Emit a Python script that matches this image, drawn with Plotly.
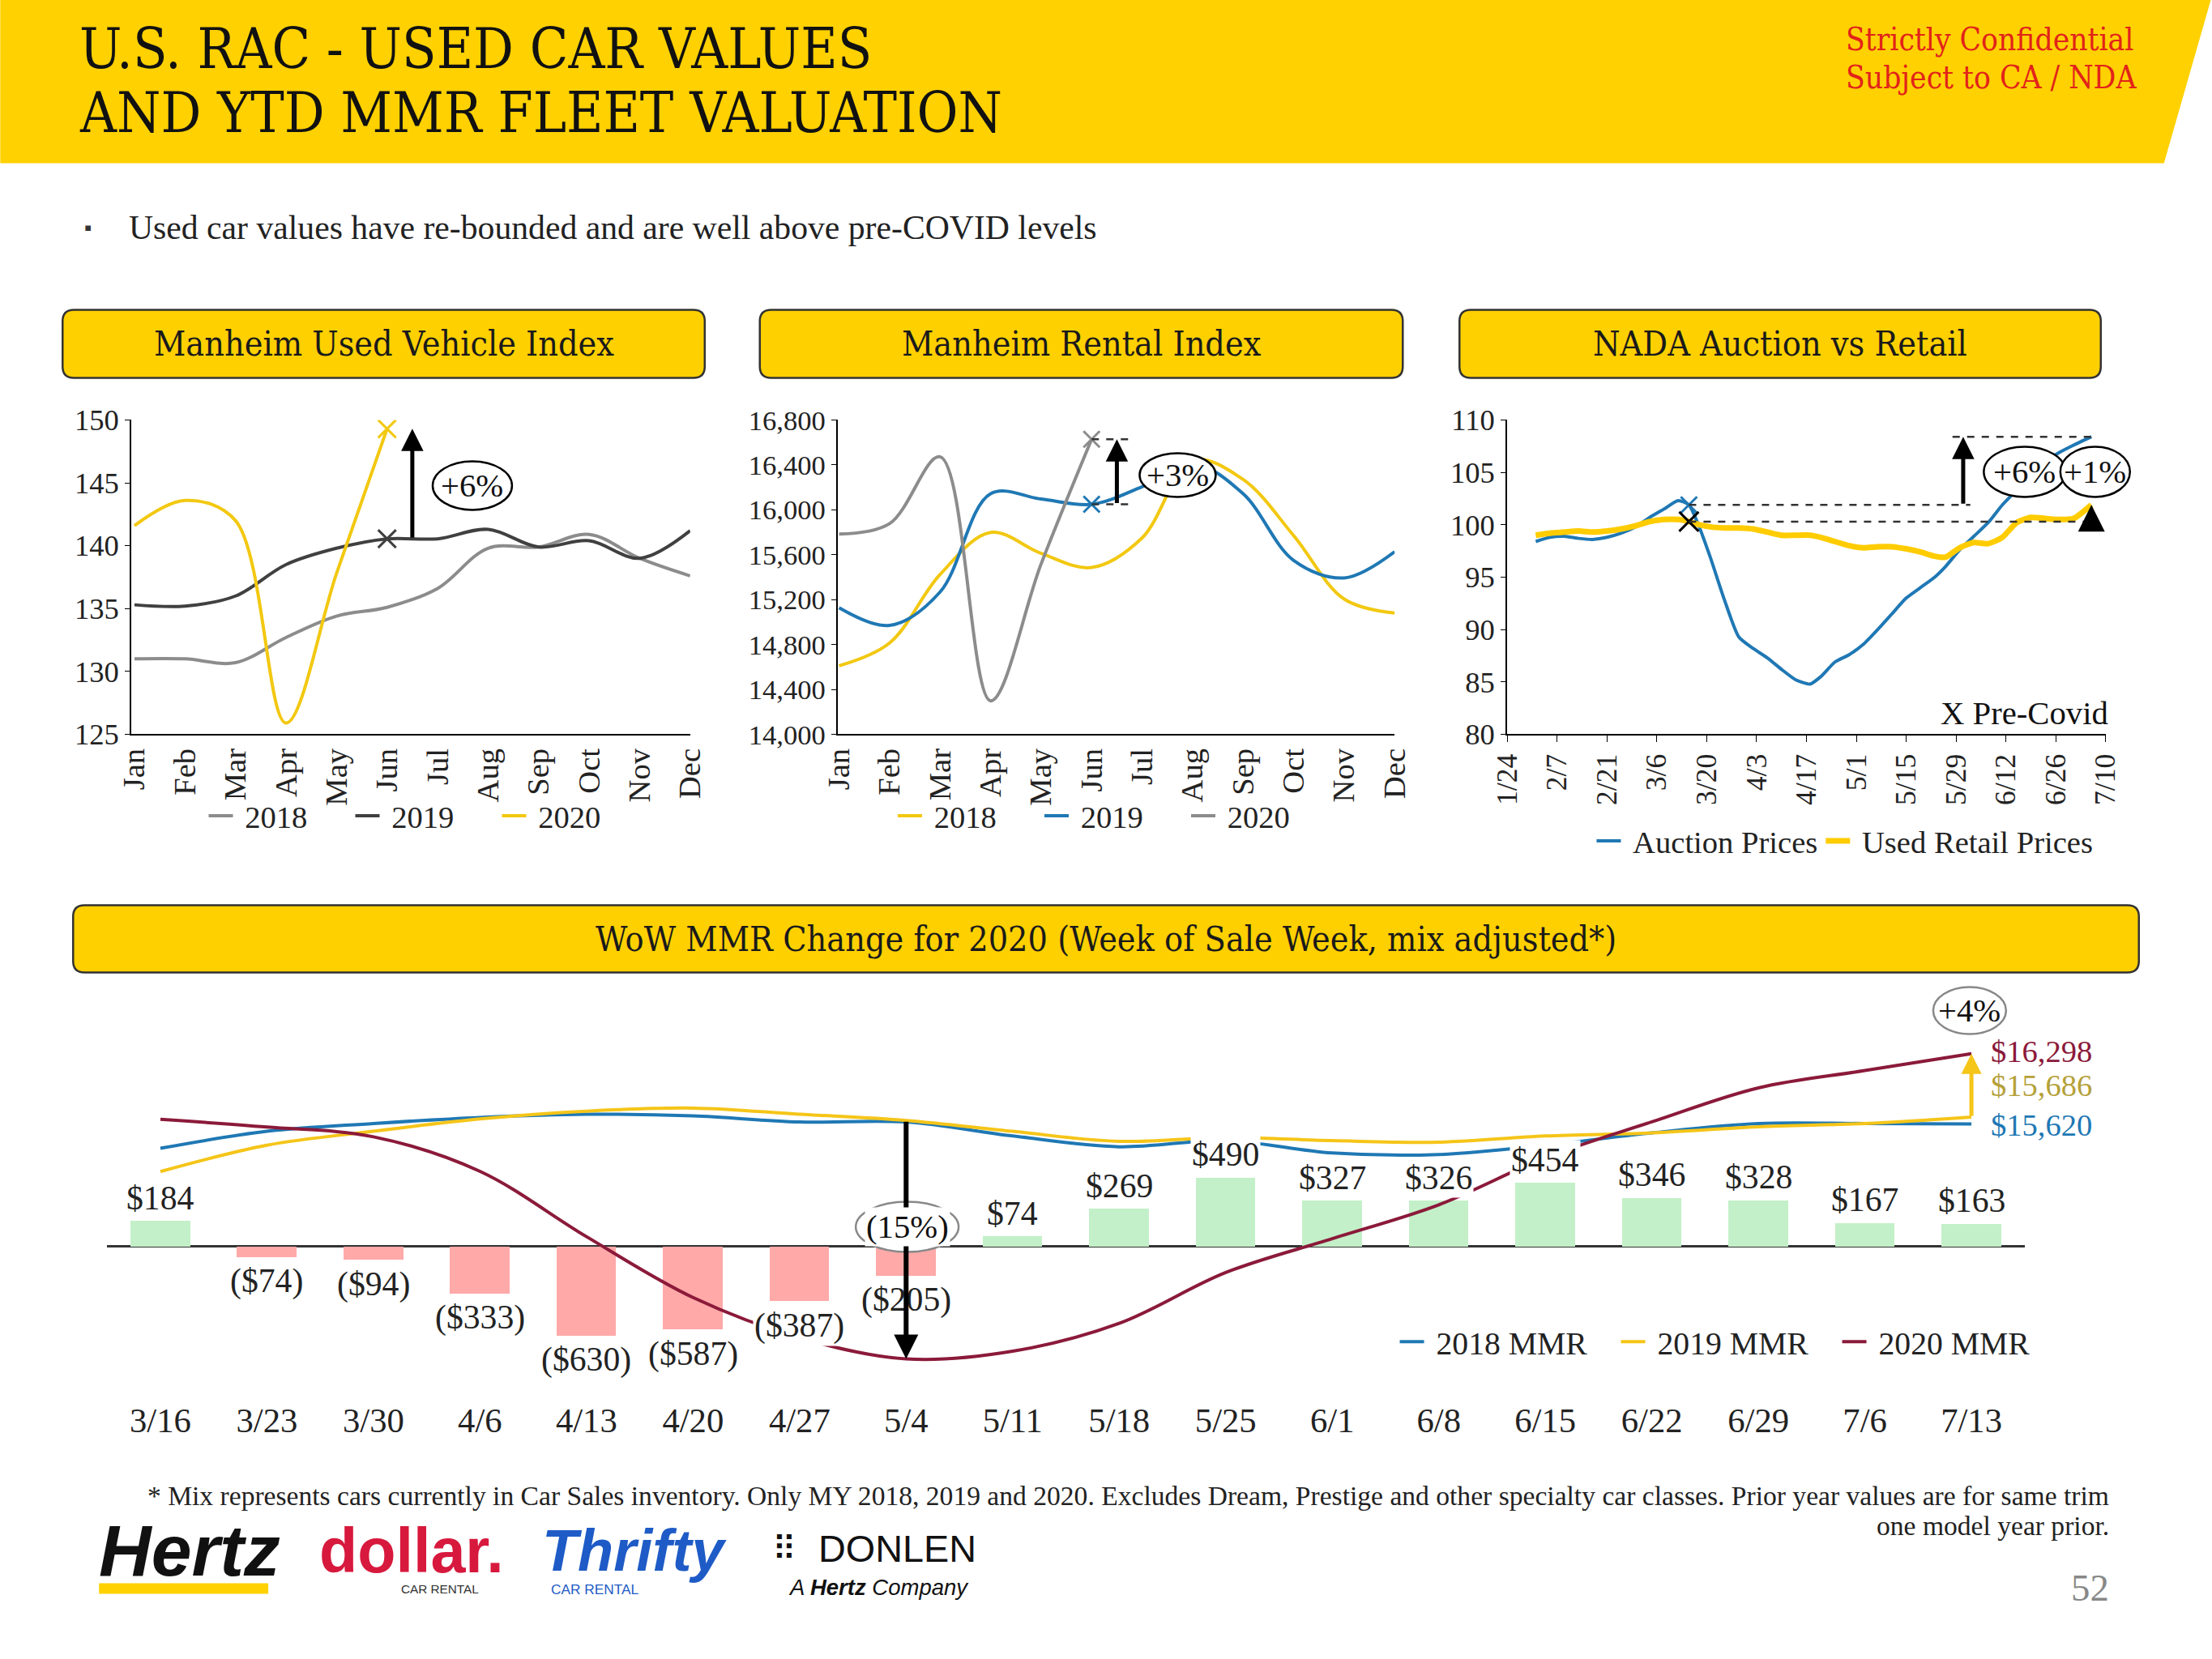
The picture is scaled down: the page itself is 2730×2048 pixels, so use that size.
import plotly.graph_objects as go

W, H = 2730, 2048
SERIF = "Liberation Serif, Times New Roman, serif"
SLAB = "DejaVu Serif Condensed, DejaVu Serif, serif"
SANS = "Liberation Sans, Arial, sans-serif"

# layout positions below are given in slide pixels (2730 x 2048);
# small correction so the photographed page lines up with the slide frame
SX, SY, PADX, PADY = 2770 / 2730, 2090 / 2048, 20, 21
FS = 1.017


def px(x):
    return (x * SX - PADX) / W


def py(y):
    return 1 - (y * SY - PADY) / H


def F(s):
    return round(s * FS, 1)


# ---------------- DATA ----------------
months = ['Jan', 'Feb', 'Mar', 'Apr', 'May', 'Jun', 'Jul', 'Aug', 'Sep', 'Oct', 'Nov', 'Dec']

# Manheim Used Vehicle Index
uvi_2018 = [131.0, 131.0, 130.7, 132.7, 134.4, 135.1, 136.6, 139.8, 139.9, 140.9, 139.0, 137.6]
uvi_2019 = [135.3, 135.2, 136.0, 138.5, 139.8, 140.55, 140.55, 141.3, 139.9, 140.4, 139.0, 141.2]
uvi_2020 = [141.6, 143.6, 142.0, 125.9, 137.8, 149.3]

# Manheim Rental Index
rental_2018 = [14611, 14814, 15424, 15799, 15612, 15486, 15750, 16440, 16270, 15770, 15205, 15080]
rental_2019 = [15127, 14970, 15268, 16143, 16096, 16049, 16206, 16410, 16143, 15549, 15393, 15627]
rental_2020 = [15784, 15877, 16472, 14298, 15518, 16628]

# NADA Auction vs Retail
nada_dates = ['2020-02-01', '2020-02-05', '2020-02-09', '2020-02-13', '2020-02-17', '2020-02-21',
              '2020-02-25', '2020-02-29', '2020-03-04', '2020-03-08', '2020-03-12', '2020-03-15',
              '2020-03-18', '2020-03-21', '2020-03-25', '2020-03-29', '2020-04-02', '2020-04-06',
              '2020-04-10', '2020-04-14', '2020-04-18', '2020-04-21', '2020-04-25', '2020-04-29',
              '2020-05-03', '2020-05-07', '2020-05-11', '2020-05-15', '2020-05-19', '2020-05-23',
              '2020-05-26', '2020-05-30', '2020-06-03', '2020-06-07', '2020-06-11', '2020-06-15',
              '2020-06-19', '2020-06-23', '2020-06-27', '2020-07-01', '2020-07-06']
auction_prices = [98.4, 98.8, 98.9, 98.7, 98.6, 98.8, 99.2, 99.8, 100.7, 101.5,
                  102.3, 101.9, 99.7, 96.9, 92.8, 89.3, 88.2, 87.3, 86.2, 85.2,
                  84.8, 85.5, 86.9, 87.6, 88.6, 90.0, 91.5, 93.0, 94.0, 95.0,
                  96.0, 97.6, 98.9, 100.2, 101.9, 103.3, 104.8, 106.0, 106.9, 107.6,
                  108.4]
retail_prices = [99.0, 99.2, 99.3, 99.4, 99.3, 99.4, 99.6, 99.9, 100.3, 100.5,
                 100.5, 100.3, 100.0, 99.8, 99.7, 99.7, 99.6, 99.3, 99.0, 99.0,
                 99.0, 98.8, 98.4, 98.0, 97.8, 97.9, 97.9, 97.7, 97.4, 97.0,
                 96.9, 97.8, 98.3, 98.2, 98.8, 100.2, 100.7, 100.6, 100.5, 100.6,
                 101.9]
pre_covid_idx = 11
nada_ticks_start = '2020-01-24'
nada_ticks_end = '2020-07-10'

# WoW MMR change
weeks = ['3/16', '3/23', '3/30', '4/6', '4/13', '4/20', '4/27', '5/4', '5/11', '5/18',
         '5/25', '6/1', '6/8', '6/15', '6/22', '6/29', '7/6', '7/13']
wow_change = [184, -74, -94, -333, -630, -587, -387, -205, 74, 269,
              490, 327, 326, 454, 346, 328, 167, 163]
mmr_2018 = [15385, 15549, 15624, 15683, 15714, 15698, 15639, 15639, 15504, 15400,
            15459, 15340, 15325, 15415, 15534, 15624, 15624, 15620]
mmr_2019 = [15161, 15415, 15549, 15668, 15743, 15773, 15714, 15654, 15549, 15452,
            15490, 15459, 15444, 15504, 15534, 15593, 15624, 15686]
mmr_2020 = [15664, 15590, 15496, 15163, 14533, 13946, 13559, 13354, 13428, 13697,
            14187, 14514, 14840, 15294, 15640, 15968, 16135, 16298]

# ---------------- STYLE ----------------
GRAY = '#8C8C8C'
DARK = '#404040'
YEL = '#F2C811'
BLUE = '#1F78B4'
MAROON = '#8B1A3A'
GREEN_BAR = '#C3F0C8'
RED_BAR = '#FFA9A9'
BAND = '#FFD100'
NB = '\u00a0'

fig = go.Figure()

# Chart 1
for name, vals, col in [('2018', uvi_2018, GRAY), ('2019', uvi_2019, DARK), ('2020', uvi_2020, YEL)]:
    fig.add_trace(go.Scatter(x=list(range(len(vals))), y=vals, name=NB + name, mode='lines',
                             line=dict(color=col, width=4, shape='spline'),
                             xaxis='x', yaxis='y', legend='legend'))
fig.add_trace(go.Scatter(x=[5], y=[uvi_2020[5]], mode='markers', showlegend=False,
                         marker=dict(symbol='x-thin', size=22, line=dict(width=3, color=YEL)),
                         xaxis='x', yaxis='y'))
fig.add_trace(go.Scatter(x=[5], y=[uvi_2019[5]], mode='markers', showlegend=False,
                         marker=dict(symbol='x-thin', size=22, line=dict(width=3, color=DARK)),
                         xaxis='x', yaxis='y'))

# Chart 2
for name, vals, col in [('2018', rental_2018, YEL), ('2019', rental_2019, BLUE), ('2020', rental_2020, GRAY)]:
    fig.add_trace(go.Scatter(x=list(range(len(vals))), y=vals, name=NB + name, mode='lines',
                             line=dict(color=col, width=4, shape='spline'),
                             xaxis='x2', yaxis='y2', legend='legend2'))
fig.add_trace(go.Scatter(x=[5], y=[rental_2020[5]], mode='markers', showlegend=False,
                         marker=dict(symbol='x-thin', size=20, line=dict(width=3, color=GRAY)),
                         xaxis='x2', yaxis='y2'))
fig.add_trace(go.Scatter(x=[5], y=[rental_2019[5]], mode='markers', showlegend=False,
                         marker=dict(symbol='x-thin', size=20, line=dict(width=3, color=BLUE)),
                         xaxis='x2', yaxis='y2'))

# Chart 3
fig.add_trace(go.Scatter(x=nada_dates, y=auction_prices, name=NB + 'Auction Prices', mode='lines',
                         line=dict(color=BLUE, width=4, shape='spline', smoothing=0.6),
                         xaxis='x3', yaxis='y3', legend='legend3'))
fig.add_trace(go.Scatter(x=nada_dates, y=retail_prices, name=NB + 'Used Retail Prices', mode='lines',
                         line=dict(color='#FFCC00', width=7, shape='spline', smoothing=0.6),
                         xaxis='x3', yaxis='y3', legend='legend3'))
fig.add_trace(go.Scatter(x=[nada_dates[pre_covid_idx]], y=[auction_prices[pre_covid_idx]], mode='markers',
                         showlegend=False,
                         marker=dict(symbol='x-thin', size=20, line=dict(width=3, color=BLUE)),
                         xaxis='x3', yaxis='y3'))
fig.add_trace(go.Scatter(x=[nada_dates[pre_covid_idx]], y=[retail_prices[pre_covid_idx]], mode='markers',
                         showlegend=False,
                         marker=dict(symbol='x-thin', size=24, line=dict(width=3, color='black')),
                         xaxis='x3', yaxis='y3'))

# Bottom chart
idx = list(range(len(weeks)))
fig.add_trace(go.Bar(x=idx, y=wow_change, width=0.56, showlegend=False,
                     marker=dict(color=[GREEN_BAR if v >= 0 else RED_BAR for v in wow_change], line=dict(width=0)),
                     xaxis='x4', yaxis='y4'))
for name, vals, col in [('2018 MMR', mmr_2018, BLUE), ('2019 MMR', mmr_2019, '#F5C518'), ('2020 MMR', mmr_2020, MAROON)]:
    fig.add_trace(go.Scatter(x=idx, y=vals, name=NB + name, mode='lines',
                             line=dict(color=col, width=4, shape='spline'),
                             xaxis='x4', yaxis='y5', legend='legend4'))

# ---------------- SHAPES ----------------
shapes = []
# header band
shapes.append(dict(type='path', xref='paper', yref='paper',
                   path=(f"M {px(0)},{py(0)} L {px(2730)},{py(0)} L {px(2672)},{py(202)} "
                         f"L {px(0)},{py(202)} Z"),
                   fillcolor=BAND, line=dict(width=0), layer='below'))


def rounded_box(x0, y0, x1, y1, r=14):
    X = px
    Y = py
    p = (f"M {X(x0 + r)},{Y(y0)} L {X(x1 - r)},{Y(y0)} Q {X(x1)},{Y(y0)} {X(x1)},{Y(y0 + r)} "
         f"L {X(x1)},{Y(y1 - r)} Q {X(x1)},{Y(y1)} {X(x1 - r)},{Y(y1)} "
         f"L {X(x0 + r)},{Y(y1)} Q {X(x0)},{Y(y1)} {X(x0)},{Y(y1 - r)} "
         f"L {X(x0)},{Y(y0 + r)} Q {X(x0)},{Y(y0)} {X(x0 + r)},{Y(y0)} Z")
    return dict(type='path', xref='paper', yref='paper', path=p, fillcolor='#FFD000',
                line=dict(color='#333333', width=2.5), layer='below')


boxes = [(77, 383, 870, 467, 'Manheim Used Vehicle Index'),
         (938, 383, 1732, 467, 'Manheim Rental Index'),
         (1802, 383, 2594, 467, 'NADA Auction vs Retail'),
         (90, 1118, 2641, 1201, 'WoW MMR Change for 2020 (Week of Sale Week, mix adjusted*)')]
for b in boxes:
    shapes.append(rounded_box(*b[:4]))

# dashed helper lines chart 2
for v in [rental_2020[5], rental_2019[5]]:
    shapes.append(dict(type='line', xref='x2', yref='y2', x0=5, x1=5.75, y0=v, y1=v,
                       line=dict(color='#333', width=2.5, dash='dash'), layer='above'))
# dashed helper lines chart 3
shapes.append(dict(type='line', xref='x3', yref='y3', x0=nada_dates[pre_covid_idx], x1='2020-06-02',
                   y0=auction_prices[pre_covid_idx], y1=auction_prices[pre_covid_idx],
                   line=dict(color='#333', width=2.5, dash='dash'), layer='above'))
shapes.append(dict(type='line', xref='x3', yref='y3', x0=nada_dates[pre_covid_idx], x1='2020-07-08',
                   y0=retail_prices[pre_covid_idx], y1=retail_prices[pre_covid_idx],
                   line=dict(color='#333', width=2.5, dash='dash'), layer='above'))
shapes.append(dict(type='line', xref='x3', yref='y3', x0='2020-05-28', x1=nada_dates[-1],
                   y0=auction_prices[-1], y1=auction_prices[-1],
                   line=dict(color='#333', width=2.5, dash='dash'), layer='above'))


def ellipse(cx, cy, w, h, col='black'):
    return dict(type='circle', xref='paper', yref='paper', x0=px(cx - w / 2), x1=px(cx + w / 2),
                y0=py(cy + h / 2), y1=py(cy - h / 2), fillcolor='white',
                line=dict(color=col, width=2.5), layer='above')


ellipses = [(583, 600, 98, 60, 'black', '+6%'),
            (1454, 587, 94, 54, 'black', '+3%'),
            (2500, 583, 101, 62, 'black', '+6%'),
            (2587, 583, 86, 62, 'black', '+1%'),
            (2432, 1248, 90, 58, '#888888', '+4%'),
            (1120, 1515, 127, 62, '#888888', '(15%)')]
for e in ellipses:
    shapes.append(ellipse(*e[:5]))

# Hertz yellow bar
shapes.append(dict(type='rect', xref='paper', yref='paper', x0=px(122), x1=px(331), y0=py(1968), y1=py(1955),
                   fillcolor=BAND, line=dict(width=0)))

# ---------------- ANNOTATIONS ----------------
ann = []


def txt(x, y, s, size, color='#222', family=SERIF, xanchor='center', yanchor='middle', **kw):
    d = dict(x=px(x), y=py(y), xref='paper', yref='paper', text=s, showarrow=False,
             font=dict(size=F(size), color=color, family=family), xanchor=xanchor, yanchor=yanchor)
    d.update(kw)
    return d


ann.append(txt(96, 61, 'U.S. RAC - USED CAR VALUES', 68, '#111', SLAB, 'left'))
ann.append(txt(96, 140, 'AND YTD MMR FLEET VALUATION', 68, '#111', SLAB, 'left'))
ann.append(txt(2277, 49, 'Strictly Confidential', 38, '#E2231A', SLAB, 'left'))
ann.append(txt(2277, 96, 'Subject to CA / NDA', 38, '#E2231A', SLAB, 'left'))
ann.append(txt(108, 282, '▪', 26, '#333', SANS))
ann.append(txt(157, 282, 'Used car values have re-bounded and are well above pre-COVID levels', 41, '#222', SERIF, 'left'))

for b in boxes:
    ann.append(txt((b[0] + b[2]) / 2, (b[1] + b[3]) / 2, b[4], 42, '#1a1a1a', SLAB))

# bar labels
for i, v in enumerate(wow_change):
    label = f"${v:,}" if v >= 0 else f"(${-v:,})"
    ann.append(dict(x=i, y=v, xref='x4', yref='y4', text=label, showarrow=False,
                    yanchor='bottom' if v >= 0 else 'top', yshift=3 if v >= 0 else -5,
                    bgcolor='white', borderpad=1,
                    font=dict(size=F(41), color='#222', family=SERIF)))

# end-value labels
ann.append(dict(x=17, y=mmr_2020[-1], xref='x4', yref='y5', text=f"${mmr_2020[-1]:,}", showarrow=False,
                xanchor='left', xshift=22, yshift=3, font=dict(size=F(38), color=MAROON, family=SERIF)))
ann.append(dict(x=17, y=mmr_2019[-1], xref='x4', yref='y5', text=f"${mmr_2019[-1]:,}", showarrow=False,
                xanchor='left', xshift=22, yshift=39, font=dict(size=F(38), color='#B5A13A', family=SERIF)))
ann.append(dict(x=17, y=mmr_2018[-1], xref='x4', yref='y5', text=f"${mmr_2018[-1]:,}", showarrow=False,
                xanchor='left', xshift=22, yshift=-2, font=dict(size=F(38), color=BLUE, family=SERIF)))


def arrow(x, y_from, y_to, xr, yr, color='black', width=5, size=1.1):
    return dict(x=x, y=y_to, ax=x, ay=y_from, xref=xr, yref=yr, axref=xr, ayref=yr, text='',
                showarrow=True, arrowhead=2, arrowsize=size, arrowwidth=width, arrowcolor=color,
                standoff=0, startstandoff=0)


ann.append(arrow(5.5, uvi_2019[5], uvi_2020[5], 'x', 'y'))
ann.append(arrow(5.5, rental_2019[5], rental_2020[5], 'x2', 'y2'))
ann.append(arrow('2020-05-31', auction_prices[pre_covid_idx], auction_prices[-1], 'x3', 'y3'))
ann.append(arrow(nada_dates[-1], retail_prices[pre_covid_idx], retail_prices[-1], 'x3', 'y3', width=3, size=2.2))
ann.append(arrow(7, mmr_2019[7], mmr_2020[7], 'x4', 'y5', width=6, size=1.0))
ann.append(arrow(17, mmr_2019[-1], mmr_2020[-1], 'x4', 'y5', color='#F5C518', width=5, size=1.0))

for e in ellipses:
    extra = dict(bgcolor='white') if e[5] == '(15%)' else {}
    ann.append(txt(e[0], e[1], e[5], 40, '#111', SERIF, **extra))

ann.append(txt(2605, 881, 'X Pre-Covid', 40, '#111', SERIF, 'right'))

# footnote
ann.append(txt(2606, 1847, '* Mix represents cars currently in Car Sales inventory. Only MY 2018, 2019 and 2020. '
                           'Excludes Dream, Prestige and other specialty car classes. Prior year values are for same trim',
               33, '#222', SERIF, 'right'))
ann.append(txt(2606, 1884, 'one model year prior.', 33, '#222', SERIF, 'right'))
ann.append(txt(2606, 1960, '52', 46, '#888', SERIF, 'right'))

# logos
ann.append(txt(120, 1914, '<b><i>Hertz</i></b>', 88, '#111', SANS, 'left'))
ann.append(txt(392, 1914, '<b>dollar.</b>', 76, '#D7193D', SANS, 'left'))
ann.append(txt(543, 1962, 'CAR RENTAL', 15, '#333', SANS))
ann.append(txt(667, 1914, '<b><i>Thrifty</i></b>', 71, '#1E5BC6', SANS, 'left'))
ann.append(txt(735, 1962, 'CAR RENTAL', 17, '#1E5BC6', SANS))
ann.append(txt(968, 1912, '⠿', 40, '#111', 'DejaVu Sans'))
ann.append(txt(1008, 1912, 'DONLEN', 46, '#111', SANS, 'left'))
ann.append(txt(1085, 1960, '<i>A <b>Hertz</b> Company</i>', 27, '#111', SANS))

# ---------------- LAYOUT ----------------
tickf = dict(family=SERIF, size=F(36), color='#222')
common_y = dict(showline=True, linecolor='black', linewidth=2, ticks='outside', ticklen=6,
                tickcolor='black', showgrid=False, zeroline=False, tickfont=tickf)
common_x = dict(showline=True, linecolor='black', linewidth=2, showgrid=False, zeroline=False,
                tickangle=-90, tickfont=dict(family=SERIF, size=F(38), color='#222'))


def leg(x, y, ew, size=38):
    return dict(x=px(x), y=py(y), entrywidth=ew, orientation='h', xanchor='center', yanchor='middle',
                bgcolor='rgba(0,0,0,0)', font=dict(family=SERIF, size=F(size), color='#222'),
                itemwidth=30, traceorder='normal')


fig.update_layout(
    width=W, height=H, margin=dict(l=0, r=0, t=0, b=0),
    paper_bgcolor='white', plot_bgcolor='white',
    shapes=shapes, annotations=ann, bargap=0,
    xaxis=dict(domain=[px(162), px(852)], range=[-0.06, 11], tickvals=list(range(12)), ticktext=months,
               ticks='', anchor='y', **common_x),
    yaxis=dict(domain=[py(907), py(519)], range=[125, 150], dtick=5, anchor='x', **common_y),
    xaxis2=dict(domain=[px(1034), px(1722)], range=[-0.03, 11], tickvals=list(range(12)), ticktext=months,
                ticks='', anchor='y2', **common_x),
    yaxis2=dict(domain=[py(907), py(519)], range=[14000, 16800], dtick=400, tickformat=',d', anchor='x2',
                **{**common_y, 'tickfont': dict(family=SERIF, size=F(34), color='#222')}),
    xaxis3=dict(domain=[px(1861), px(2600)], type='date', range=[nada_ticks_start, nada_ticks_end],
                tick0=nada_ticks_start, dtick=14 * 86400000, tickformat='%-m/%-d',
                ticks='outside', ticklen=8, tickcolor='black', anchor='y3',
                **{**common_x, 'tickfont': dict(family=SERIF, size=F(35), color='#222')}),
    yaxis3=dict(domain=[py(907), py(519)], range=[80, 110], dtick=5, anchor='x3', **common_y),
    xaxis4=dict(domain=[px(132), px(2500)], range=[-0.5, 17.5], tickvals=idx, ticktext=weeks,
                showline=False, ticks='', showgrid=False, zeroline=False, anchor='y4',
                tickfont=dict(family=SERIF, size=F(42), color='#222')),
    yaxis4=dict(domain=[py(1725), py(1230)], range=[-1069, 1776], showticklabels=False, showgrid=False,
                showline=False, ticks='', zeroline=True, zerolinecolor='#333', zerolinewidth=2.5, anchor='x4'),
    yaxis5=dict(overlaying='y4', range=[12987, 16854], visible=False, anchor='x4'),
    legend=leg(524, 1008, 136, 38),
    legend2=leg(1375, 1008, 136, 38),
    legend3=leg(2278, 1039, 0, 38),
    legend4=leg(2133, 1657, 228, 39),
    showlegend=True,
)

fig.write_html("out.html", config={'displayModeBar': False},
               post_script="document.body.style.margin='0px';document.body.style.padding='0px';"
                           "document.documentElement.style.overflow='hidden';")
